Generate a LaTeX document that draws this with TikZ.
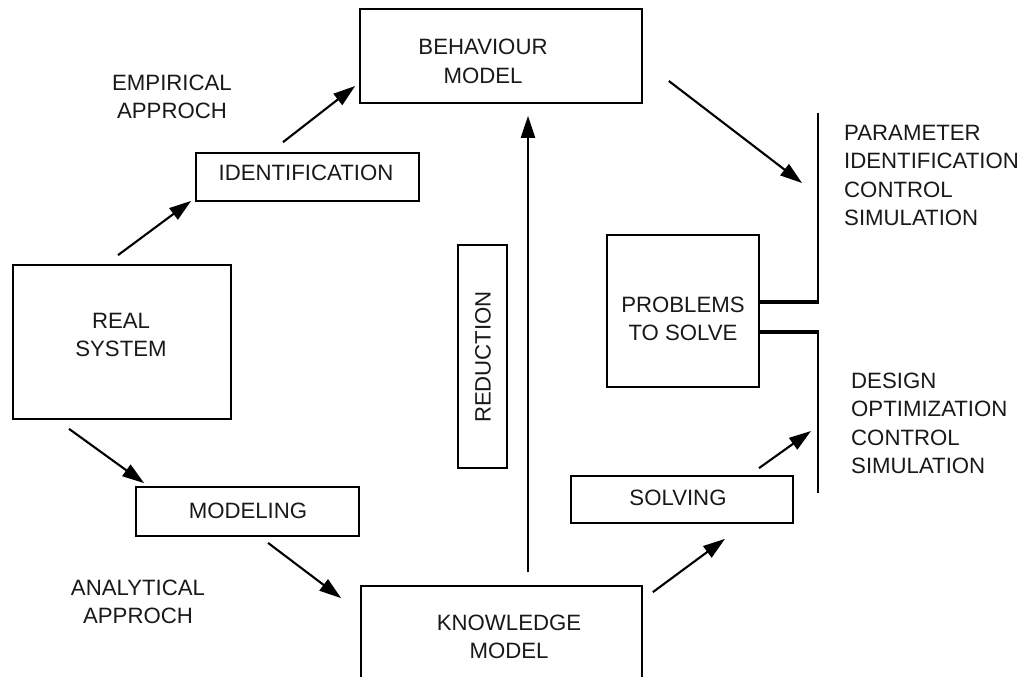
\documentclass[tikz,border=0pt]{standalone}
\usepackage{fontspec}
\setmainfont{Liberation Sans}
\usetikzlibrary{arrows.meta,calc}
\begin{document}
\begin{tikzpicture}[x=1pt,y=-1pt,
  box/.style={draw, line width=1.7pt, inner sep=0pt},
  lbl/.style={font=\fontsize{22.2}{28.5}\selectfont, align=center, inner sep=0pt, text=black!90},
  rlbl/.style={font=\fontsize{22.2}{28.5}\selectfont, align=left, anchor=west, inner sep=0pt, text=black!90},
  arr/.style={line width=2.1pt, -{Triangle[length=22pt,width=14pt]}},
  vl/.style={line width=2.5pt},
  hl/.style={line width=4.2pt}]
\useasboundingbox[fill=white] (0,0) rectangle (1021,677);
% boxes
\node[box, minimum width=282, minimum height=94] (beh) at (501,56) {};
\node[box, minimum width=223, minimum height=48] (ident) at (307.5,177) {};
\node[box, minimum width=218, minimum height=154] (real) at (122,342) {};
\node[box, minimum width=223, minimum height=49] (model) at (247.5,511.5) {};
\node[box, minimum width=281, minimum height=114] (know) at (501.5,643) {};
\node[box, minimum width=49, minimum height=223] (red) at (482.5,356.5) {};
\node[box, minimum width=152, minimum height=152] (prob) at (683,311) {};
\node[box, minimum width=222, minimum height=47] (solv) at (682,499.5) {};
% labels
\node[lbl] (tbeh) at (483,61.5) {BEHAVIOUR\\MODEL};
\node[lbl] (tident) at (306,173) {IDENTIFICATION};
\node[lbl] (treal) at (121,335) {REAL\\SYSTEM};
\node[lbl] (tmodel) at (248,511) {MODELING};
\node[lbl] (tknow) at (509,637) {KNOWLEDGE\\MODEL};
\node[lbl, rotate=90] (tred) at (483,357) {REDUCTION};
\node[lbl] (tprob) at (683,319) {PROBLEMS\\TO SOLVE};
\node[lbl] (tsolv) at (678,498) {SOLVING};
\node[lbl] (temp) at (172,97) {EMPIRICAL\\APPROCH};
\node[lbl] (tana) at (138,602) {ANALYTICAL\\APPROCH};
\node[rlbl] (tpar) at (844,175.5) {PARAMETER\\IDENTIFICATION\\CONTROL\\SIMULATION};
\node[rlbl] (tdes) at (851,423.5) {DESIGN\\OPTIMIZATION\\CONTROL\\SIMULATION};
% bracket coordinates
\coordinate (ptop) at (818,113);
\coordinate (pjoin) at (818,302);
\coordinate (dtop) at (818,332);
\coordinate (dbot) at (818,493);
% bracket lines
\draw[vl] (ptop) -- (pjoin);
\draw[hl] ($(prob.east)+(0,-9)$) -- ($(pjoin)+(1.25,0)$);
\draw[vl] (dtop) -- (dbot);
\draw[hl] ($(prob.east)+(0,21)$) -- ($(dtop)+(1.25,0)$);
% arrows
\draw[arr] ($(real.north)+(-4,-9)$) -- ($(ident.south west)+(-4,-1)$);
\draw[arr] ($(ident.north)+(-24.5,-10)$) -- ($(beh.west)+(-4,30)$);
\draw[arr] ($(beh.east)+(26,25)$) -- ($(ptop)+(-16,70)$);
\draw[arr] ($(real.south)+(-53,9)$) -- ($(model.north west)+(9,-3)$);
\draw[arr] ($(model.south)+(20.5,6)$) -- ($(know.north west)+(-19,13)$);
\draw[arr] ($(know.north east)+(10,7)$) -- ($(solv.south)+(43,15)$);
\draw[arr] ($(solv.north)+(77,-7)$) -- ($(dtop)+(-7,99)$);
\draw[arr] ($(know.north)+(26.5,-13)$) -- ($(beh.south)+(27,12)$);
\end{tikzpicture}
\end{document}
